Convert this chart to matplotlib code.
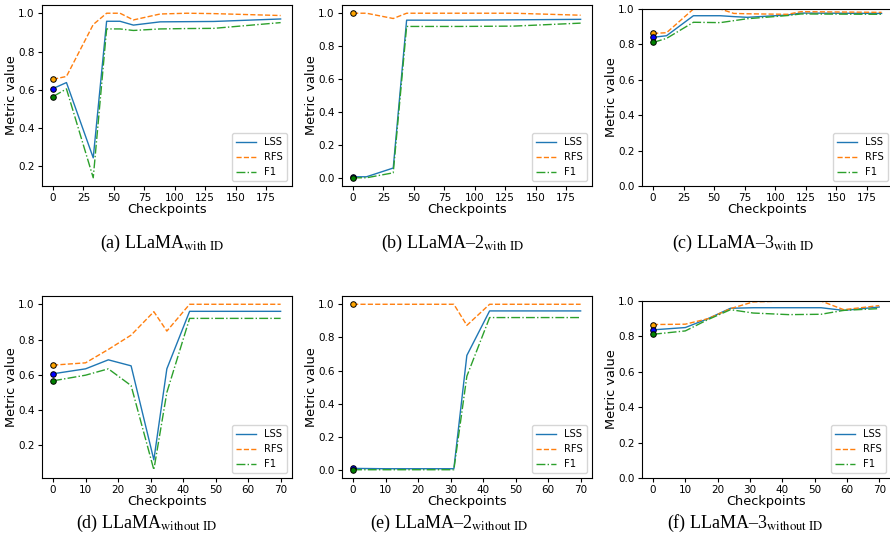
import matplotlib
matplotlib.use("Agg")
import matplotlib.pyplot as plt

plt.rcParams['mathtext.fontset'] = 'stix'

# ---- data ----
# top row: checkpoints in steps of 11
x_a = [0, 11, 33, 44, 55, 66, 88, 110, 132, 187]
lss_a = [0.607, 0.638, 0.245, 0.958, 0.958, 0.938, 0.955, 0.956, 0.957, 0.970]
rfs_a = [0.655, 0.670, 0.941, 1.000, 1.000, 0.965, 0.996, 1.000, 0.998, 0.988]
f1_a = [0.565, 0.605, 0.141, 0.918, 0.918, 0.910, 0.918, 0.920, 0.921, 0.951]

x_b = [0, 11, 33, 44, 88, 132, 187]
lss_b = [0.010, 0.010, 0.063, 0.958, 0.958, 0.960, 0.963]
rfs_b = [1.000, 1.000, 0.968, 1.000, 1.000, 1.000, 0.988]
f1_b = [0.004, 0.004, 0.034, 0.920, 0.920, 0.922, 0.940]

x_c = [0, 11, 33, 55, 66, 77, 110, 121, 187]
lss_c = [0.840, 0.849, 0.962, 0.962, 0.957, 0.953, 0.966, 0.977, 0.975]
rfs_c = [0.862, 0.866, 1.000, 1.000, 0.975, 0.973, 0.970, 0.985, 0.981]
f1_c = [0.811, 0.834, 0.925, 0.923, 0.934, 0.945, 0.963, 0.972, 0.970]

# bottom row
x_d = [0, 10, 17, 24, 31, 35, 42, 70]
lss_d = [0.606, 0.634, 0.685, 0.651, 0.118, 0.634, 0.960, 0.960]
rfs_d = [0.655, 0.668, 0.744, 0.825, 0.958, 0.848, 1.000, 1.000]
f1_d = [0.566, 0.598, 0.634, 0.539, 0.062, 0.500, 0.920, 0.920]

x_e = [0, 10, 17, 24, 31, 35, 42, 70]
lss_e = [0.012, 0.010, 0.010, 0.010, 0.010, 0.692, 0.960, 0.960]
rfs_e = [1.000, 1.000, 1.000, 1.000, 1.000, 0.873, 1.000, 1.000]
f1_e = [0.004, 0.004, 0.004, 0.004, 0.004, 0.567, 0.920, 0.920]

x_f = [0, 10, 17, 24, 31, 42, 52, 59, 70]
lss_f = [0.837, 0.850, 0.900, 0.959, 0.962, 0.962, 0.962, 0.947, 0.966]
rfs_f = [0.867, 0.869, 0.900, 0.957, 0.995, 1.000, 1.000, 0.951, 0.974]
f1_f = [0.812, 0.831, 0.895, 0.951, 0.932, 0.923, 0.925, 0.947, 0.957]

top_ticks = [0, 25, 50, 75, 100, 125, 150, 175]
bottom_ticks = [0, 10, 20, 30, 40, 50, 60, 70]

captions = [
    r"(a) LLaMA$_{\mathrm{with\ ID}}$",
    r"(b) LLaMA–2$_{\mathrm{with\ ID}}$",
    r"(c) LLaMA–3$_{\mathrm{with\ ID}}$",
    r"(d) LLaMA$_{\mathrm{without\ ID}}$",
    r"(e) LLaMA–2$_{\mathrm{without\ ID}}$",
    r"(f) LLaMA–3$_{\mathrm{without\ ID}}$",
]

W, H = 890, 554
fig = plt.figure(figsize=(W / 100, H / 100), dpi=100)


def px_axes(left, top, right, bottom):
    return fig.add_axes([left / W, 1 - bottom / H, (right - left) / W, (bottom - top) / H])


def panel(ax, x, lss, rfs, f1, xticks, fixed=False):
    ax.plot(x, lss, color='tab:blue', lw=1.0, label='LSS')
    ax.plot(x, rfs, color='tab:orange', lw=1.0, ls='--', label='RFS')
    ax.plot(x, f1, color='tab:green', lw=1.0, ls='-.', label='F1')
    # starting points
    ax.plot(x[0], rfs[0], 'o', color='orange', mec='black', ms=4, mew=0.7, zorder=5)
    ax.plot(x[0], lss[0], 'o', color='blue', mec='black', ms=4, mew=0.7, zorder=5)
    ax.plot(x[0], f1[0], 'o', color='green', mec='black', ms=4, mew=0.7, zorder=5)
    ax.set_xticks(xticks)
    if fixed:
        ax.set_ylim(0, 1.0)
    ax.set_xlabel('Checkpoints', fontsize=9.3, labelpad=0)
    ax.set_ylabel('Metric value', fontsize=9.3, labelpad=0)
    ax.tick_params(labelsize=7.5, length=3, pad=2)
    ax.legend(loc='lower right', fontsize=7.2)


ax_a = px_axes(41.7, 5, 292, 186)
ax_b = px_axes(341.7, 5, 592, 186)
ax_c = px_axes(641.7, 9, 893, 186)
ax_d = px_axes(41.7, 296, 292, 478)
ax_e = px_axes(341.7, 296, 592, 478)
ax_f = px_axes(641.7, 301, 890.5, 478)

panel(ax_a, x_a, lss_a, rfs_a, f1_a, top_ticks)
panel(ax_b, x_b, lss_b, rfs_b, f1_b, top_ticks)
panel(ax_c, x_c, lss_c, rfs_c, f1_c, top_ticks, fixed=True)
panel(ax_d, x_d, lss_d, rfs_d, f1_d, bottom_ticks)
panel(ax_e, x_e, lss_e, rfs_e, f1_e, bottom_ticks)
panel(ax_f, x_f, lss_f, rfs_f, f1_f, bottom_ticks, fixed=True)

cap_pos = [(162, 243), (453, 243), (743, 243), (147, 523), (449, 523), (745, 523)]
for (cx, cy), txt in zip(cap_pos, captions):
    fig.text(cx / W, 1 - cy / H, txt, ha='center', va='center',
             fontsize=13, family='Liberation Serif')

fig.savefig('out.png', dpi=100)
